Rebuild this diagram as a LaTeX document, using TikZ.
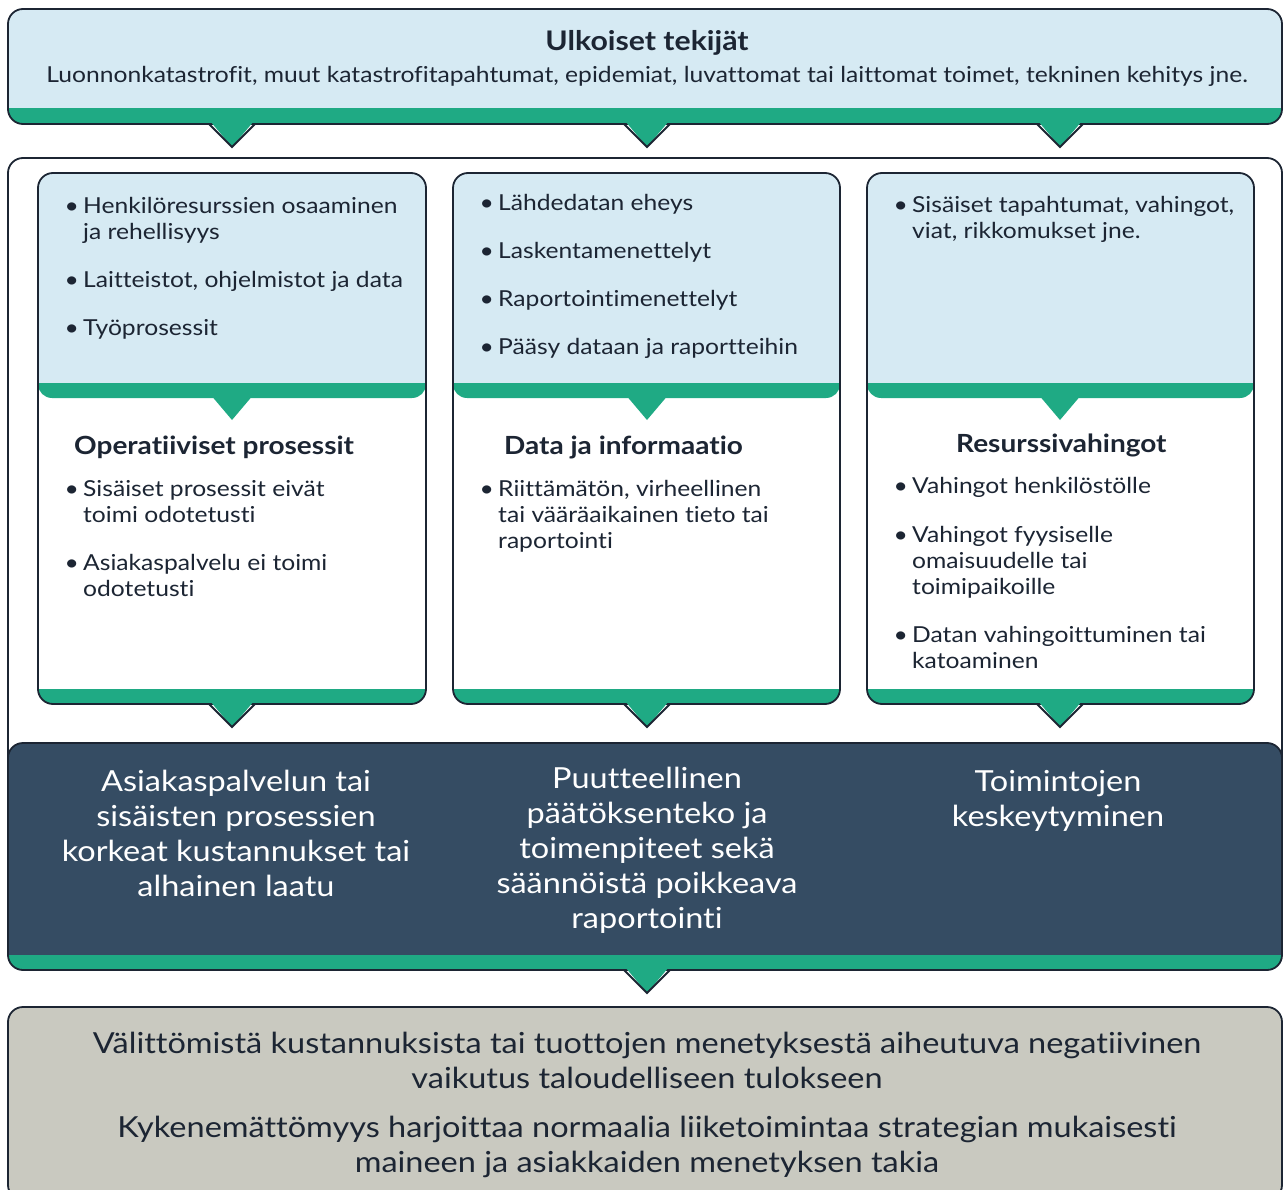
\documentclass[tikz,border=0pt]{standalone}
\usepackage{fontspec}
\setmainfont{Lato}[FakeStretch=1.12, Ligatures={NoCommon,NoRare}]
\definecolor{lblue}{HTML}{D6EAF3}
\definecolor{grn}{HTML}{1FAA84}
\definecolor{navy}{HTML}{354C63}
\definecolor{gry}{HTML}{C9C9C0}
\definecolor{ink}{HTML}{1C2533}
\tikzset{
  outl/.style={draw=ink, line width=1.8pt},
  body/.style={font=\fontsize{22}{26}\selectfont, text=ink, inner sep=0pt, align=left, anchor=base west},
  head/.style={font=\bfseries\fontsize{25}{28}\selectfont, text=ink, inner sep=0pt, anchor=base west},
  big/.style={font=\fontsize{29}{35}\selectfont, inner sep=0pt, align=center, anchor=base},
}
\newcommand\tri[2]{\fill[grn] (#1-22,#2-3) -- (#1+22,#2-3) -- (#1,#2+23) -- cycle;}
\newcommand\trio[2]{\fill[grn] (#1-22,#2-3) -- (#1+22,#2-3) -- (#1,#2+23) -- cycle;
  \draw[outl] (#1-23,#2) -- (#1,#2+23) -- (#1+23,#2);}
% inner box: x1, x2
\newcommand\innerbox[2]{%
  \fill[white, rounded corners=15] (#1,173) rectangle (#2,704);
  \begin{scope}
    \clip[rounded corners=15] (#1,173) rectangle (#2,704);
    \fill[grn, rounded corners=14] (#1,360) rectangle (#2,398);
    \fill[lblue] (#1-5,165) rectangle (#2+5,383);
    \fill[grn] (#1-5,689) rectangle (#2+5,710);
  \end{scope}
  \draw[outl, rounded corners=15] (#1,173) rectangle (#2,704);}
\newcommand\bul[5]{% x, y(first baseline), name, lines, text
  \node[body, anchor=base east] (#3b) at (#1-4,#2) {•};
  \node[body] (#3) at (#1,#2+26*#4-26) {#5};}
\begin{document}
\begin{tikzpicture}[x=1pt,y=-1pt]
\useasboundingbox (0,0) rectangle (1283,1190);
\clip (0,0) rectangle (1283,1190);
% outer white frame
\draw[outl, fill=white, rounded corners=15] (8,158) rectangle (1282,900);
% top box
\fill[lblue, rounded corners=15] (8,9) rectangle (1282,124);
\begin{scope}
  \clip[rounded corners=15] (8,9) rectangle (1282,124);
  \fill[grn] (0,108) rectangle (1300,130);
\end{scope}
\draw[outl, rounded corners=15] (8,9) rectangle (1282,124);
\node[font=\bfseries\fontsize{27}{30}\selectfont, text=ink, inner sep=0pt, anchor=base] (ext) at (647,51) {Ulkoiset tekijät};
\node[body, anchor=base] (extt) at (647,83) {Luonnonkatastrofit, muut katastrofitapahtumat, epidemiat, luvattomat tai laittomat toimet, tekninen kehitys jne.};
% inner boxes
\innerbox{38}{426}
\innerbox{453}{840}
\innerbox{867}{1254}
% dark box
\fill[navy, rounded corners=15] (8,743) rectangle (1282,970);
\begin{scope}
  \clip[rounded corners=15] (8,743) rectangle (1282,970);
  \fill[grn] (0,955) rectangle (1300,980);
\end{scope}
\draw[outl, rounded corners=15] (8,743) rectangle (1282,970);
% gray box
\draw[outl, fill=gry, rounded corners=15] (8,1007) rectangle (1282,1200);
% triangles
\trio{232}{124}\trio{647}{124}\trio{1060}{124}
\tri{232}{397}\tri{647}{397}\tri{1060}{397}
\trio{232}{704}\trio{647}{704}\trio{1060}{704}
\trio{647}{970}
% box 1 text
\bul{83}{214}{a1}{2}{Henkilöresurssien osaaminen\\ja rehellisyys}
\bul{83}{288}{a2}{1}{Laitteistot, ohjelmistot ja data}
\bul{83}{336}{a3}{1}{Työprosessit}
\node[head] (ha) at (74,454) {Operatiiviset prosessit};
\bul{83}{496}{a4}{2}{Sisäiset prosessit eivät\\toimi odotetusti}
\bul{83}{570}{a5}{2}{Asiakaspalvelu ei toimi\\odotetusti}
% box 2 text
\bul{498}{211}{b1}{1}{Lähdedatan eheys}
\bul{498}{259}{b2}{1}{Laskentamenettelyt}
\bul{498}{307}{b3}{1}{Raportointimenettelyt}
\bul{498}{355}{b4}{1}{Pääsy dataan ja raportteihin}
\node[head] (hb) at (504,454) {Data ja informaatio};
\bul{498}{496}{b5}{3}{Riittämätön, virheellinen\\tai vääräaikainen tieto tai\\raportointi}
% box 3 text
\bul{912}{213}{c1}{2}{Sisäiset tapahtumat, vahingot,\\viat, rikkomukset jne.}
\node[head] (hc) at (956,452) {Resurssivahingot};
\bul{912}{493}{c2}{1}{Vahingot henkilöstölle}
\bul{912}{542}{c3}{3}{Vahingot fyysiselle\\omaisuudelle tai\\toimipaikoille}
\bul{912}{642}{c4}{2}{Datan vahingoittuminen tai\\katoaminen}
% dark box text
\node[big, text=white] (d1) at (236,896) {Asiakaspalvelun tai\\sisäisten prosessien\\korkeat kustannukset tai\\alhainen laatu};
\node[big, text=white] (d2) at (647,928) {Puutteellinen\\päätöksenteko ja\\toimenpiteet sekä\\säännöistä poikkeava\\raportointi};
\node[big, text=white] (d3) at (1058,826) {Toimintojen\\keskeytyminen};
% gray text
\node[big, text=ink] (g1) at (647,1088) {Välittömistä kustannuksista tai tuottojen menetyksestä aiheutuva negatiivinen\\vaikutus taloudelliseen tulokseen};
\node[big, text=ink] (g2) at (647,1172) {Kykenemättömyys harjoittaa normaalia liiketoimintaa strategian mukaisesti\\maineen ja asiakkaiden menetyksen takia};
\end{tikzpicture}
\end{document}
